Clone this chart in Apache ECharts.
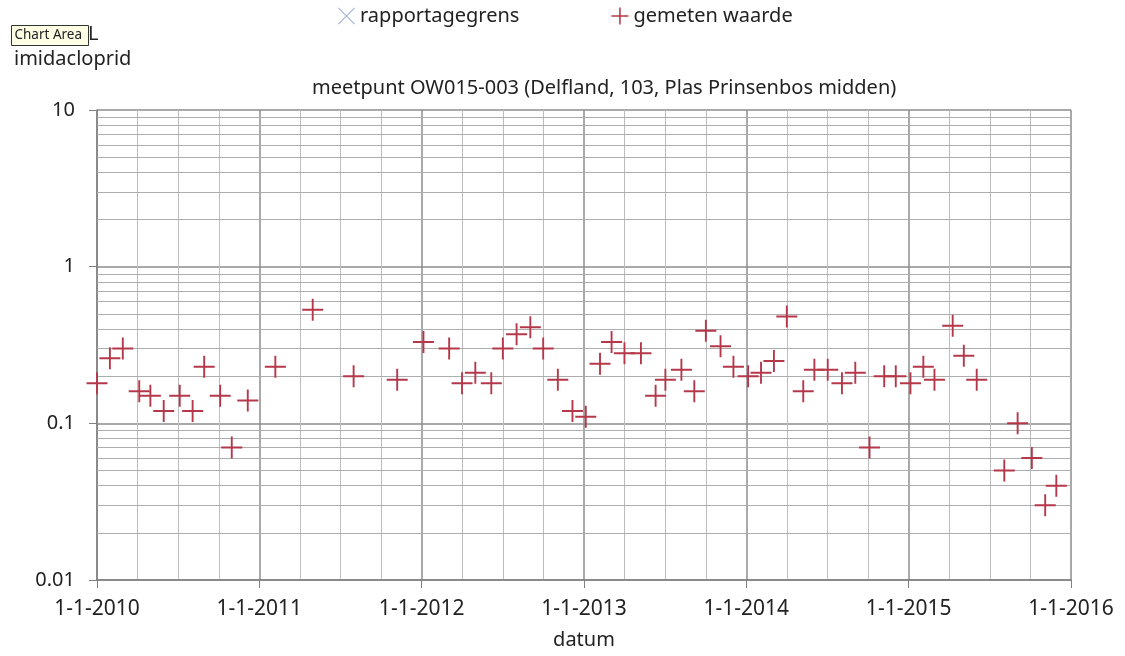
<!DOCTYPE html>
<html>
<head>
<meta charset="utf-8">
<script src="https://cdn.jsdelivr.net/npm/echarts@6/dist/echarts.min.js"></script>
<style>
html,body{margin:0;padding:0;background:#fff;}
#chart{width:1125px;height:656px;}
</style>
</head>
<body>
<div id="chart"></div>
<script>
// measured values (imidacloprid, µg/L) — gemeten waarde
const dates = [
  '2010-01-01','2010-01-30','2010-02-28','2010-04-06','2010-05-01','2010-05-31','2010-07-06','2010-08-04',
  '2010-08-30','2010-10-05','2010-10-31','2010-12-06','2011-02-06','2011-05-01','2011-08-01','2011-11-07',
  '2012-01-05','2012-03-03','2012-04-01','2012-05-01','2012-06-06','2012-07-02','2012-08-02','2012-09-02',
  '2012-10-01','2012-11-03','2012-12-06','2013-01-05','2013-02-06','2013-03-04','2013-04-02','2013-05-09',
  '2013-06-11','2013-07-03','2013-08-08','2013-09-06','2013-10-02','2013-11-04','2013-12-03','2014-01-05',
  '2014-02-03','2014-03-04','2014-04-02','2014-05-09','2014-06-03','2014-07-03','2014-08-04','2014-09-03',
  '2014-10-05','2014-11-07','2014-12-03','2015-01-05','2015-02-03','2015-02-28','2015-04-10','2015-05-05',
  '2015-06-03','2015-08-04','2015-09-03','2015-10-05','2015-11-04','2015-11-29'
];
const values = [
  0.18,0.26,0.30,0.16,0.15,0.12,0.15,0.12,
  0.23,0.15,0.07,0.14,0.23,0.53,0.20,0.19,
  0.33,0.30,0.18,0.21,0.18,0.30,0.37,0.41,
  0.30,0.19,0.12,0.11,0.24,0.33,0.28,0.28,
  0.15,0.19,0.22,0.16,0.39,0.31,0.23,0.20,
  0.21,0.25,0.48,0.16,0.22,0.22,0.18,0.21,
  0.07,0.20,0.20,0.18,0.23,0.19,0.42,0.27,
  0.19,0.05,0.10,0.06,0.03,0.04
];
// rapportagegrens: no visible points
const rapportageDates = [];
const rapportageValues = [];

const yearMin = 2010, yearMax = 2016;
const yTickLabels = ['0.01','0.1','1','10'];
const yMinorLines = [0.02,0.03,0.04,0.05,0.06,0.07,0.08,0.09,0.2,0.3,0.4,0.5,0.6,0.7,0.8,0.9,2,3,4,5,6,7,8,9];

function toYear(s){
  const p = s.split('-').map(Number);
  const st = Date.UTC(p[0],0,1), en = Date.UTC(p[0]+1,0,1);
  return p[0] + (Date.UTC(p[0],p[1]-1,p[2]) - st) / (en - st);
}

const plusPath = 'path://M9.1,0h1.8v9.1h9.1v1.8h-9.1v9.1h-1.8v-9.1h-9.1v-1.8h9.1z';
const crossPath = 'path://M1,0L10,9L19,0L20,1L11,10L20,19L19,20L10,11L1,20L0,19L9,10L0,1Z';
const red = '#b5384a';
const blue = '#8ea6cc';
const FONT = 'Noto Sans';

const chart = echarts.init(document.getElementById('chart'), null, {renderer:'canvas'});
chart.setOption({
  animation: false,
  backgroundColor: '#ffffff',
  textStyle: {fontFamily: FONT},
  title: {
    text: 'meetpunt OW015-003 (Delfland, 103, Plas Prinsenbos midden)',
    left: 307, top: 73,
    textStyle: {fontFamily: FONT, fontSize: 20, fontWeight: 'normal', color: '#222'}
  },
  legend: {
    left: 338, top: 6, padding: 0,
    itemWidth: 17, itemHeight: 17, itemGap: 92,
    textStyle: {fontFamily: FONT, fontSize: 20, color: '#222'},
    data: [
      {name: 'rapportagegrens', icon: crossPath, itemStyle: {color: blue}},
      {name: 'gemeten waarde', icon: plusPath, itemStyle: {color: red}}
    ],
    selectedMode: false
  },
  grid: {left: 97, right: 54, top: 110, bottom: 76, containLabel: false},
  xAxis: {
    type: 'value', min: yearMin, max: yearMax, interval: 1,
    name: 'datum', nameLocation: 'middle', nameGap: 50,
    nameTextStyle: {fontFamily: FONT, fontSize: 20, color: '#222'},
    axisLine: {show: true, lineStyle: {color: '#808080', width: 1.5}},
    axisTick: {show: true, length: 8, lineStyle: {color: '#808080'}},
    axisLabel: {margin: 19, fontSize: 21, color: '#222', fontFamily: FONT,
      formatter: v => '1-1-' + Math.round(v)},
    splitLine: {show: true, lineStyle: {color: '#8c8c8c', width: 1.5}},
    minorTick: {show: false, splitNumber: 4},
    minorSplitLine: {show: true, lineStyle: {color: '#bdbdbd', width: 1}}
  },
  yAxis: {
    type: 'log', logBase: 10, min: 0.01, max: 10,
    axisLine: {show: true, lineStyle: {color: '#808080', width: 1.5}},
    axisTick: {show: true, length: 8, lineStyle: {color: '#808080'}},
    axisLabel: {margin: 22, fontSize: 20, color: '#222', fontFamily: FONT,
      formatter: v => { const s = String(+(+v).toPrecision(3)); return yTickLabels.includes(s) ? s : ''; }},
    splitLine: {show: true, lineStyle: {color: '#8c8c8c', width: 1.5}}
  },
  series: [
    {
      name: 'rapportagegrens', type: 'scatter',
      symbol: crossPath, symbolSize: 16,
      itemStyle: {color: blue},
      data: rapportageDates.map((d,i) => [toYear(d), rapportageValues[i]])
    },
    {
      name: 'gemeten waarde', type: 'scatter',
      symbol: plusPath, symbolSize: [21, 22], symbolKeepAspect: false,
      itemStyle: {color: red, opacity: 1},
      z: 5,
      data: dates.map((d,i) => [toYear(d), values[i]]),
      markLine: {
        silent: true, symbol: 'none', animation: false,
        label: {show: false},
        lineStyle: {color: '#adadad', width: 1, type: 'solid'},
        emphasis: {disabled: true},
        z: 1,
        data: yMinorLines.map(v => ({yAxis: v}))
      }
    }
  ],
  graphic: [
    {type: 'group', left: 11, top: 25, z: 20, children: [
      {type: 'rect', shape: {x: 0, y: 0, width: 77, height: 20},
        style: {fill: '#ffffe6', stroke: '#333', lineWidth: 1}},
      {type: 'text', x: 3, y: 10, style: {text: 'Chart Area', font: '13.5px "Noto Sans"', fill: '#222', verticalAlign: 'middle'}}
    ]},
    {type: 'text', left: 88, top: 24, z: 10,
      style: {text: 'L', font: '20px "Noto Sans"', fill: '#222'}},
    {type: 'text', left: 14, top: 49, z: 10,
      style: {text: 'imidacloprid', font: '20px "Noto Sans"', fill: '#222'}}
  ]
});
</script>
</body>
</html>
